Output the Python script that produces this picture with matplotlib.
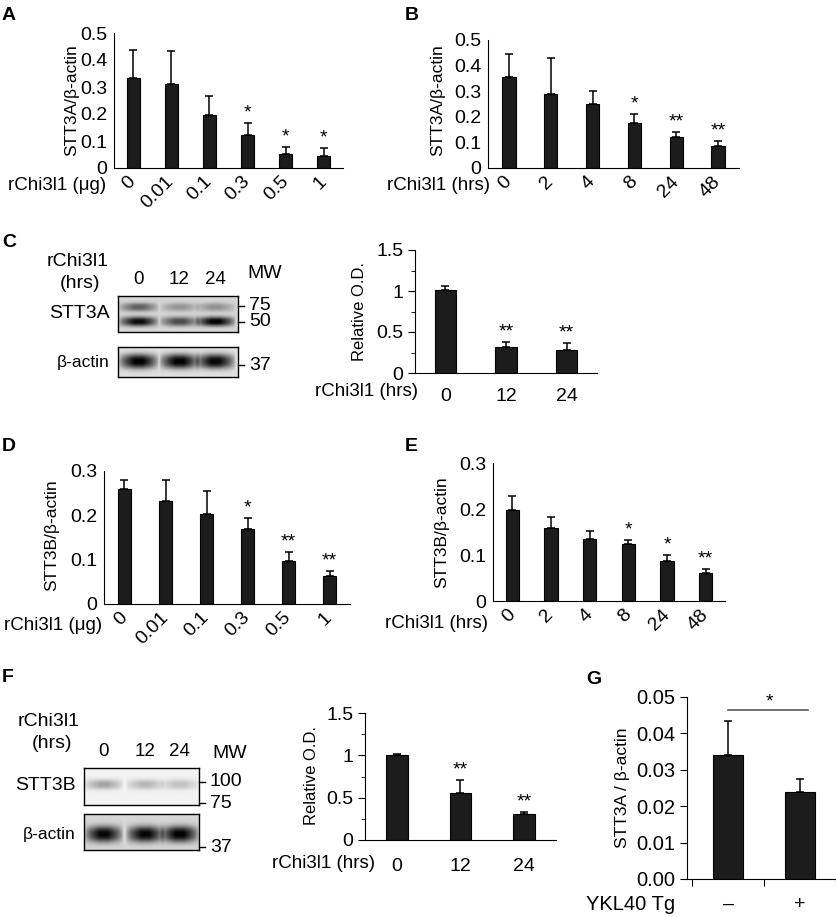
import matplotlib
matplotlib.use("Agg")
import matplotlib.pyplot as plt
import numpy as np
from matplotlib.ticker import FuncFormatter, MultipleLocator

plt.rcParams['font.family'] = ['Liberation Sans', 'DejaVu Sans']

# ---------------- data ----------------
dose_labels = ['0', '0.01', '0.1', '0.3', '0.5', '1']
time_labels = ['0', '2', '4', '8', '24', '48']
blot_labels = ['0', '12', '24']

a_mean = [0.333, 0.311, 0.196, 0.122, 0.052, 0.044]
a_err = [0.104, 0.122, 0.071, 0.045, 0.026, 0.030]
a_sig = ['', '', '', '*', '*', '*']

b_mean = [0.355, 0.289, 0.250, 0.176, 0.121, 0.086]
b_err = [0.090, 0.141, 0.050, 0.035, 0.020, 0.019]
b_sig = ['', '', '', '*', '**', '**']

c_mean = [1.01, 0.32, 0.28]
c_err = [0.055, 0.06, 0.08]
c_sig = ['', '**', '**']

d_mean = [0.260, 0.232, 0.204, 0.169, 0.098, 0.063]
d_err = [0.019, 0.048, 0.050, 0.024, 0.019, 0.012]
d_sig = ['', '', '', '*', '**', '**']

e_mean = [0.198, 0.158, 0.134, 0.124, 0.086, 0.060]
e_err = [0.030, 0.024, 0.018, 0.008, 0.015, 0.010]
e_sig = ['', '', '', '*', '*', '**']

f_mean = [1.0, 0.555, 0.307]
f_err = [0.01, 0.155, 0.023]
f_sig = ['', '**', '**']

g_labels = ['–', '+']
g_mean = [0.0342, 0.0240]
g_err = [0.0091, 0.0036]

# blot band intensities per lane (0 = none, 1 = black)
stt3a_upper = [0.55, 0.30, 0.32]
stt3a_lower = [0.95, 0.65, 1.0]
actin_c = [1.0, 1.0, 0.97]
stt3b_band = [0.32, 0.24, 0.2]
actin_f = [0.97, 0.97, 1.0]

# ---------------- layout helpers ----------------
W, H = 837, 917
fig = plt.figure(figsize=(W / 100, H / 100), dpi=100)


def px_axes(l, t, r, b):
    return fig.add_axes([l / W, 1 - b / H, (r - l) / W, (b - t) / H])


def ftxt(x, y, s, **kw):
    fig.text(x / W, 1 - y / H, s, **kw)


def bar_panel(ax, mean, err, sig, ymax, width=0.34, fs=14):
    x = np.arange(len(mean))
    ax.bar(x, mean, width=width, color='#1c1c1c', edgecolor='black', lw=0.8, zorder=2)
    ax.errorbar(x, mean, yerr=[np.zeros(len(err)), err], fmt='none', ecolor='black',
                elinewidth=1.1, capsize=3, capthick=1.1, zorder=1)
    for xi, m, e, s in zip(x, mean, err, sig):
        if s:
            ax.annotate(s, (xi, m + e), xytext=(0, 4), textcoords='offset points',
                        ha='center', va='baseline', fontsize=14)
    ax.set_xlim(-0.5, len(mean) - 0.5)
    ax.set_ylim(0, ymax)
    for sp in ['top', 'right']:
        ax.spines[sp].set_visible(False)
    ax.yaxis.set_major_formatter(FuncFormatter(lambda v, p: '%g' % round(v, 3)))
    ax.tick_params(labelsize=fs)
    return x


def rotated_ticks(ax, labels):
    ax.set_xticks(np.arange(len(labels)))
    ax.set_xticklabels(labels, rotation=45, ha='right', va='center', rotation_mode='anchor')
    ax.tick_params(axis='x', length=0, pad=8)
    ax.tick_params(axis='y', length=0, pad=5)


def blot(ax, bands, lane_pos, bg):
    ny, nx = 60, 200
    yy, xx = np.mgrid[0:ny, 0:nx]
    img = np.full((ny, nx), bg)
    for yc, thick, inten in bands:
        for lx, it in zip(lane_pos, inten):
            prof_x = np.clip(1.25 * (1 - np.abs(xx / nx - lx) / 0.17), 0, 1) ** 0.6
            prof_y = np.exp(-np.abs((yy / ny - yc) / thick) ** 2.5)
            img = img - it * bg * prof_x * prof_y
    ax.imshow(np.clip(img, 0, 1), cmap='gray', vmin=0, vmax=1, aspect='auto',
              extent=[0, 1, 1, 0], interpolation='bilinear')
    ax.set_xticks([])
    ax.set_yticks([])
    for sp in ax.spines.values():
        sp.set_linewidth(1.0)


# ---------------- A ----------------
axA = px_axes(114, 33, 343, 168)
bar_panel(axA, a_mean, a_err, a_sig, 0.5)
axA.set_yticks(np.arange(0, 0.51, 0.1))
rotated_ticks(axA, dose_labels)
ftxt(72, 100, 'STT3A/β-actin', rotation=90, ha='center', va='center', fontsize=12.5)
ftxt(106, 186, 'rChi3l1 (μg)', ha='right', va='center', fontsize=13.5)
ftxt(2, 15, 'A', fontsize=14, fontweight='bold', va='center')

# ---------------- B ----------------
axB = px_axes(488, 40, 739, 168)
bar_panel(axB, b_mean, b_err, b_sig, 0.5, width=0.32)
axB.set_yticks(np.arange(0, 0.51, 0.1))
rotated_ticks(axB, time_labels)
ftxt(438, 100, 'STT3A/β-actin', rotation=90, ha='center', va='center', fontsize=12.5)
ftxt(490, 186, 'rChi3l1 (hrs)', ha='right', va='center', fontsize=13.5)
ftxt(405, 15, 'B', fontsize=14, fontweight='bold', va='center')

# ---------------- C blot ----------------
lanes_c = [0.17, 0.51, 0.81]
axC1 = px_axes(118, 296, 238, 332)
blot(axC1, [(0.30, 0.12, stt3a_upper), (0.70, 0.13, stt3a_lower)], lanes_c, 0.84)
axC2 = px_axes(118, 347, 238, 377)
blot(axC2, [(0.47, 0.24, actin_c)], lanes_c, 0.88)
ftxt(78, 262, 'rChi3l1', ha='center', va='center', fontsize=14)
ftxt(80, 283, '(hrs)', ha='center', va='center', fontsize=14)
for lx, lab in zip(lanes_c, blot_labels):
    ftxt(118 + lx * 120, 279, lab, ha='center', va='center', fontsize=13.5)
ftxt(265, 273, 'MW', ha='center', va='center', fontsize=14)
ftxt(110, 313, 'STT3A', ha='right', va='center', fontsize=14)
ftxt(110, 362, 'β-actin', ha='right', va='center', fontsize=12.5)
for yv, lab in [(306, '75'), (322, '50'), (365, '37')]:
    fig.add_artist(plt.Line2D([238 / W, 244 / W], [1 - yv / H, 1 - yv / H], color='black', lw=1))
    ftxt(249, yv, lab, ha='left', va='center', fontsize=14)
ftxt(2, 243, 'C', fontsize=14, fontweight='bold', va='center')

# ---------------- C bars ----------------
axC = px_axes(415, 250, 597, 373)
bar_panel(axC, c_mean, c_err, c_sig, 1.5, width=0.35)
axC.set_yticks([0, 0.5, 1, 1.5])
axC.yaxis.set_minor_locator(MultipleLocator(0.25))
axC.set_xticks(np.arange(3))
axC.set_xticklabels(blot_labels)
axC.tick_params(axis='x', length=0, pad=11, labelsize=14)
axC.tick_params(axis='y', which='major', length=5, labelsize=14)
axC.tick_params(axis='y', which='minor', length=3)
ftxt(360, 312, 'Relative O.D.', rotation=90, ha='center', va='center', fontsize=12)
ftxt(418, 392, 'rChi3l1 (hrs)', ha='right', va='center', fontsize=13.5)

# ---------------- D ----------------
axD = px_axes(104, 471, 350, 604)
bar_panel(axD, d_mean, d_err, d_sig, 0.3, width=0.3)
axD.set_yticks([0, 0.1, 0.2, 0.3])
rotated_ticks(axD, dose_labels)
ftxt(52, 535, 'STT3B/β-actin', rotation=90, ha='center', va='center', fontsize=12.5)
ftxt(102, 625, 'rChi3l1 (μg)', ha='right', va='center', fontsize=13.5)
ftxt(2, 447, 'D', fontsize=14, fontweight='bold', va='center')

# ---------------- E ----------------
axE = px_axes(493, 463, 725, 601)
bar_panel(axE, e_mean, e_err, e_sig, 0.3)
axE.set_yticks([0, 0.1, 0.2, 0.3])
rotated_ticks(axE, time_labels)
ftxt(442, 532, 'STT3B/β-actin', rotation=90, ha='center', va='center', fontsize=12.5)
ftxt(488, 624, 'rChi3l1 (hrs)', ha='right', va='center', fontsize=13.5)
ftxt(405, 447, 'E', fontsize=14, fontweight='bold', va='center')

# ---------------- F blot ----------------
lanes_f = [0.17, 0.53, 0.83]
axF1 = px_axes(84, 768, 199, 805)
blot(axF1, [(0.45, 0.13, stt3b_band)], lanes_f, 0.95)
axF2 = px_axes(84, 814, 199, 850)
blot(axF2, [(0.55, 0.22, actin_f)], lanes_f, 0.84)
ftxt(49, 721, 'rChi3l1', ha='center', va='center', fontsize=14)
ftxt(52, 744, '(hrs)', ha='center', va='center', fontsize=14)
for lx, lab in zip(lanes_f, blot_labels):
    ftxt(84 + lx * 115, 751, lab, ha='center', va='center', fontsize=13.5)
ftxt(230, 753, 'MW', ha='center', va='center', fontsize=14)
ftxt(76, 785, 'STT3B', ha='right', va='center', fontsize=14)
ftxt(76, 835, 'β-actin', ha='right', va='center', fontsize=12.5)
for yv, lab in [(782, '100'), (803, '75'), (847, '37')]:
    fig.add_artist(plt.Line2D([199 / W, 205 / W], [1 - yv / H, 1 - yv / H], color='black', lw=1))
    ftxt(210, yv, lab, ha='left', va='center', fontsize=14)
ftxt(2, 678, 'F', fontsize=14, fontweight='bold', va='center')

# ---------------- F bars ----------------
axF = px_axes(365, 713, 556, 840)
bar_panel(axF, f_mean, f_err, f_sig, 1.5, width=0.34)
axF.set_yticks([0, 0.5, 1, 1.5])
axF.yaxis.set_minor_locator(MultipleLocator(0.25))
axF.set_xticks(np.arange(3))
axF.set_xticklabels(blot_labels)
axF.tick_params(axis='x', length=0, pad=13, labelsize=14)
axF.tick_params(axis='y', which='major', length=5, labelsize=14)
axF.tick_params(axis='y', which='minor', length=3)
ftxt(312, 776, 'Relative O.D.', rotation=90, ha='center', va='center', fontsize=12)
ftxt(375, 863, 'rChi3l1 (hrs)', ha='right', va='center', fontsize=13.5)

# ---------------- G ----------------
axG = px_axes(687, 697, 836, 879)
xg = np.arange(2)
axG.bar(xg, g_mean, width=0.41, color='#1c1c1c', edgecolor='black', lw=0.8, zorder=2)
axG.errorbar(xg, g_mean, yerr=[np.zeros(2), g_err], fmt='none', ecolor='black',
             elinewidth=1.1, capsize=3, capthick=1.1, zorder=1)
axG.set_xlim(-0.57, 1.5)
axG.set_ylim(0, 0.05)
axG.set_yticks(np.arange(0, 0.051, 0.01))
axG.yaxis.set_major_formatter(FuncFormatter(lambda v, p: '%.2f' % v))
axG.set_xticks([-0.5, 0.5, 1.5])
axG.set_xticklabels([])
axG.set_xticks(xg, minor=True)
axG.set_xticklabels(g_labels, minor=True)
axG.tick_params(axis='x', which='major', length=5)
axG.tick_params(axis='x', which='minor', length=0, pad=12, labelsize=14)
axG.tick_params(axis='y', length=5, labelsize=14.5)
for sp in ['top', 'right']:
    axG.spines[sp].set_visible(False)
axG.plot([0, 1.11], [0.0465, 0.0465], color='#555555', lw=1.2, clip_on=False)
axG.text(0.57, 0.0475, '*', ha='center', va='baseline', fontsize=14)
ftxt(623, 788, 'STT3A / β-actin', rotation=90, ha='center', va='center', fontsize=12.5)
ftxt(675, 905, 'YKL40 Tg', ha='right', va='center', fontsize=14.5)
ftxt(586, 680, 'G', fontsize=14, fontweight='bold', va='center')

plt.savefig('out.png', dpi=100)
